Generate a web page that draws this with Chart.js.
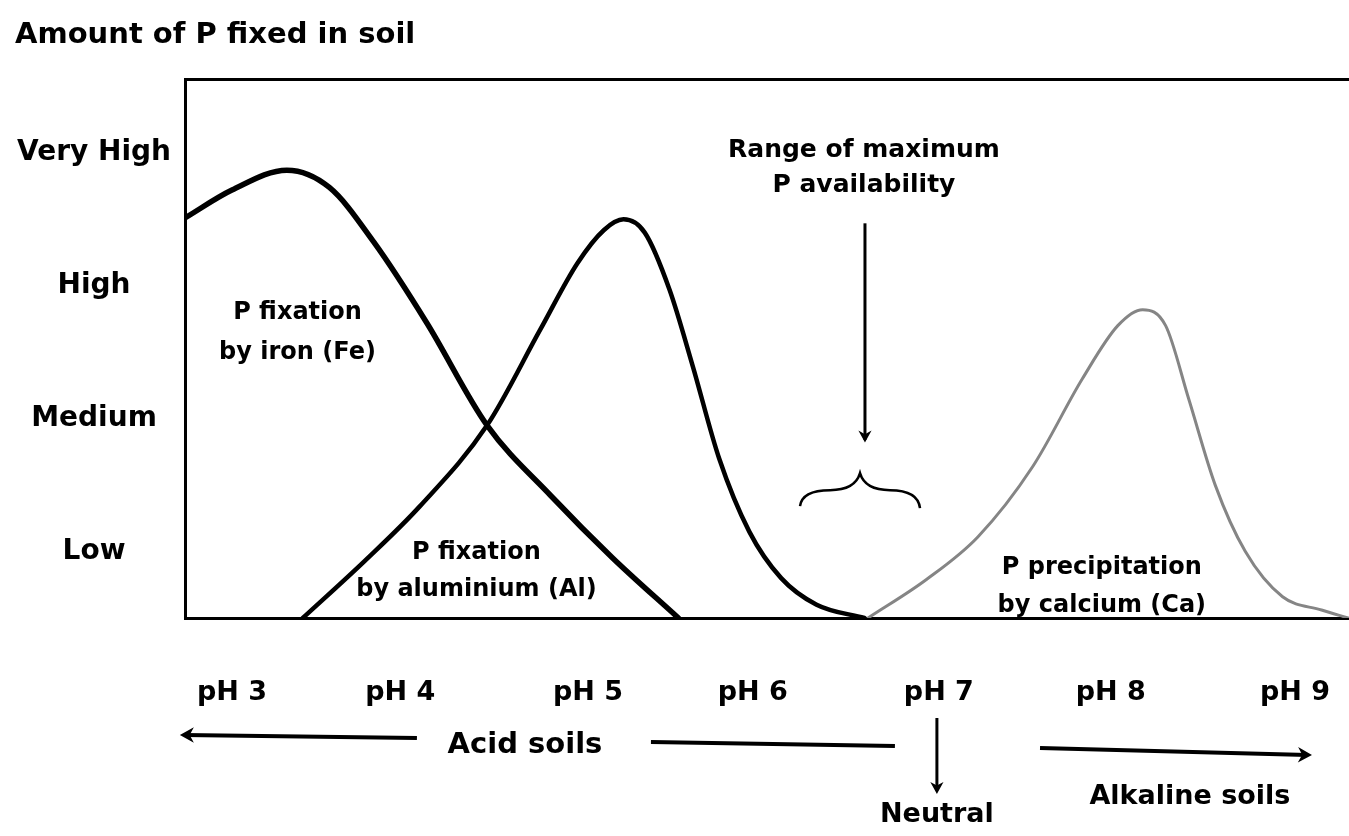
<!DOCTYPE html>
<html>
<head>
<meta charset="utf-8">
<title>Amount of P fixed in soil</title>
<script src="https://cdn.jsdelivr.net/npm/chart.js@4.4.1/dist/chart.umd.min.js"></script>
<style>
  html, body { margin: 0; padding: 0; background: #fff; }
  #wrap { width: 1349px; height: 836px; position: relative; }
</style>
</head>
<body>
<div id="wrap"><canvas id="chart"></canvas></div>
<script>
// curves: x = pH, y = level (1 = Low ... 4 = Very High, 0.5 = axis line)
let feX = [2.735, 3.00, 3.31, 3.55, 3.80, 4.10, 4.44, 4.80, 5.15, 5.52];
let feY = [3.51, 3.72, 3.87, 3.74, 3.33, 2.72, 1.95, 1.42, 0.95, 0.50];

let alX = [3.40, 3.75, 4.06, 4.44, 4.74, 4.95, 5.10, 5.21, 5.33, 5.47, 5.60, 5.75, 5.92, 6.10, 6.30, 6.57];
let alY = [0.50, 0.93, 1.34, 1.95, 2.67, 3.17, 3.42, 3.50, 3.40, 2.97, 2.40, 1.70, 1.15, 0.80, 0.60, 0.50];

let caX = [6.59, 6.92, 7.21, 7.52, 7.80, 8.00, 8.14, 8.27, 8.40, 8.55, 8.72, 8.93, 9.15, 9.30];
let caY = [0.50, 0.79, 1.11, 1.64, 2.30, 2.70, 2.82, 2.70, 2.15, 1.50, 1.00, 0.66, 0.56, 0.50];

// axis labels (the pH labels are not evenly spaced in the original)
let levelValues = [1, 2, 3, 4];
let levelLabels = ['Low', 'Medium', 'High', 'Very High'];
let phTickPos = [3.0, 3.95, 5.01, 5.94, 6.99, 7.96, 9.0];
let phLabels = ['pH 3', 'pH 4', 'pH 5', 'pH 6', 'pH 7', 'pH 8', 'pH 9'];

let FONT = "'DejaVu Sans', sans-serif";

var toPoints = function(xs, ys) {
    return xs.map((x, i) => ({x: x, y: ys[i]}));
};

// arrowhead helper
var arrowHead = function(ctx, x, y, ang, size) {
    ctx.save();
    ctx.translate(x, y);
    ctx.rotate(ang);
    ctx.beginPath();
    ctx.moveTo(0, 0);
    ctx.lineTo(-size, -size * 0.55);
    ctx.lineTo(-size * 0.7, 0);
    ctx.lineTo(-size, size * 0.55);
    ctx.closePath();
    ctx.fill();
    ctx.restore();
};

var textLines = function(ctx, lines, x, y, gap) {
    lines.forEach((t, i) => ctx.fillText(t, x, y + i * gap));
};

// labels, arrows and the brace
let notes = {
    id: 'notes',
    afterDatasetsDraw(chart) {
        let ctx = chart.ctx;
        let sx = chart.scales.x;
        let sy = chart.scales.y;
        let base = chart.chartArea.bottom;
        let px = v => sx.getPixelForValue(v);
        let py = v => sy.getPixelForValue(v);

        ctx.save();
        ctx.fillStyle = '#000';
        ctx.strokeStyle = '#000';
        ctx.textAlign = 'center';
        ctx.textBaseline = 'middle';

        ctx.font = 'bold 24px ' + FONT;
        textLines(ctx, ['P fixation', 'by iron (Fe)'], px(3.37), py(2.80), 40);
        textLines(ctx, ['P fixation', 'by aluminium (Al)'], px(4.38), py(0.99), 37);
        textLines(ctx, ['P precipitation', 'by calcium (Ca)'], px(7.91), py(0.88), 38);
        ctx.font = 'bold 25px ' + FONT;
        textLines(ctx, ['Range of maximum', 'P availability'], px(6.567), py(4.02), 35);

        // arrow down to the brace
        let ax = px(6.573);
        ctx.lineWidth = 3;
        ctx.beginPath();
        ctx.moveTo(ax, py(3.47));
        ctx.lineTo(ax, py(1.84));
        ctx.stroke();
        arrowHead(ctx, ax, py(1.82), Math.PI / 2, 12);

        // curly brace
        let bx = px(6.545);
        let by = py(1.59);
        ctx.lineWidth = 2.5;
        ctx.beginPath();
        ctx.moveTo(bx - 60, by + 33);
        ctx.quadraticCurveTo(bx - 58, by + 17, bx - 30, by + 17);
        ctx.quadraticCurveTo(bx - 5, by + 17, bx, by);
        ctx.quadraticCurveTo(bx + 5, by + 17, bx + 30, by + 17);
        ctx.quadraticCurveTo(bx + 58, by + 17, bx + 60, by + 35);
        ctx.stroke();

        // below the axis
        ctx.font = 'bold 29px ' + FONT;
        ctx.fillText('Acid soils', px(4.654), base + 127);
        ctx.font = 'bold 27px ' + FONT;
        ctx.fillText('Neutral', px(6.979), base + 197);
        ctx.fillText('Alkaline soils', px(8.407), base + 179);

        ctx.lineWidth = 4;
        ctx.beginPath();
        ctx.moveTo(px(4.044), base + 120);
        ctx.lineTo(px(2.73), base + 117);
        ctx.stroke();
        arrowHead(ctx, px(2.706), base + 117, Math.PI, 14);

        ctx.beginPath();
        ctx.moveTo(px(5.365), base + 124);
        ctx.lineTo(px(6.742), base + 128);
        ctx.stroke();

        ctx.beginPath();
        ctx.moveTo(px(7.561), base + 130);
        ctx.lineTo(px(9.07), base + 137);
        ctx.stroke();
        arrowHead(ctx, px(9.096), base + 137, 0.02, 14);

        let nx = px(6.979);
        ctx.lineWidth = 3;
        ctx.beginPath();
        ctx.moveTo(nx, base + 100);
        ctx.lineTo(nx, base + 172);
        ctx.stroke();
        arrowHead(ctx, nx, base + 176, Math.PI / 2, 12);

        ctx.restore();
    }
};

let lineStyle = {
    pointRadius: 0,
    fill: false,
    cubicInterpolationMode: 'monotone',
    borderCapStyle: 'round',
    borderJoinStyle: 'round'
};

new Chart(document.getElementById('chart'), {
    type: 'line',
    data: {
        datasets: [
            Object.assign({label: 'Fe', data: toPoints(feX, feY), borderColor: '#000', borderWidth: 5.5}, lineStyle),
            Object.assign({label: 'Al', data: toPoints(alX, alY), borderColor: '#000', borderWidth: 4.5}, lineStyle),
            Object.assign({label: 'Ca', data: toPoints(caX, caY), borderColor: '#858585', borderWidth: 3}, lineStyle)
        ]
    },
    options: {
        responsive: true,
        maintainAspectRatio: false,
        animation: false,
        layout: { padding: { left: 15, right: 0, top: 0, bottom: 128 } },
        plugins: {
            legend: { display: false },
            tooltip: { enabled: false },
            title: {
                display: true,
                text: 'Amount of P fixed in soil',
                align: 'start',
                color: '#000',
                font: { family: FONT, size: 29, weight: 'bold' },
                padding: { top: 18, bottom: 27 }
            }
        },
        scales: {
            x: {
                type: 'linear',
                min: 2.735,
                max: 9.305,
                afterBuildTicks: s => { s.ticks = phTickPos.map(v => ({value: v})); },
                afterFit: s => { s.height = 90; },
                // invisible tick marks push the labels down without widening the side padding
                grid: { display: false, drawTicks: true, tickLength: 53 },
                border: { display: true, color: '#000', width: 3 },
                ticks: {
                    autoSkip: false,
                    maxRotation: 0,
                    padding: 6,
                    color: '#000',
                    font: { family: FONT, size: 27, weight: 'bold' },
                    callback: (v, i) => phLabels[i]
                }
            },
            top: {
                type: 'linear',
                position: 'top',
                min: 2.735,
                max: 9.305,
                afterFit: s => { s.height = 0; },
                grid: { display: false, drawTicks: false },
                border: { display: true, color: '#000', width: 3 },
                ticks: { display: false, padding: 0 }
            },
            y: {
                type: 'linear',
                min: 0.5,
                max: 4.55,
                afterBuildTicks: s => { s.ticks = levelValues.map(v => ({value: v})); },
                afterFit: s => { s.width = 170; },
                grid: { display: false, drawTicks: false },
                border: { display: true, color: '#000', width: 3 },
                ticks: {
                    crossAlign: 'center',
                    padding: 14,
                    color: '#000',
                    font: { family: FONT, size: 28, weight: 'bold' },
                    callback: (v, i) => levelLabels[i]
                }
            }
        }
    },
    plugins: [notes]
});
</script>
</body>
</html>
